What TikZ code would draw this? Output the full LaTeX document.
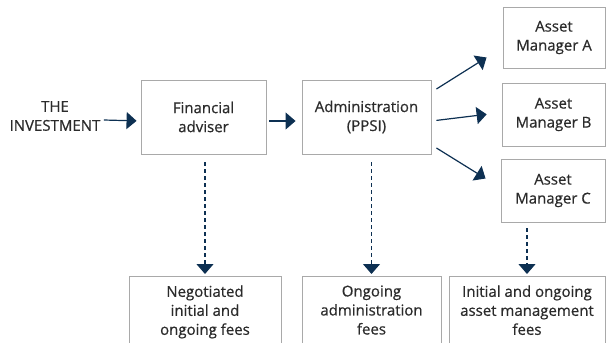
\documentclass[tikz,border=0pt]{standalone}
\usepackage{fontspec}
\setmainfont{Open Sans}
\newfontfamily\semib{Open Sans}[FakeBold=0.6]
\usetikzlibrary{arrows.meta}

\definecolor{navy}{HTML}{0D3052}
\definecolor{boxgrey}{HTML}{A9A9A9}
\definecolor{txt}{HTML}{2B2B2B}

\tikzset{
  box/.style={draw=boxgrey, line width=0.9pt, align=center, text=txt,
    font=\semib\fontsize{15}{19}\selectfont, inner sep=0pt},
  flow/.style={-{Triangle[length=10pt,width=17pt]}, draw=navy, line width=1.2pt},
  fee/.style={flow, dash pattern=on 4pt off 3pt}
}

\begin{document}
\begin{tikzpicture}[x=1pt, y=-1pt]
    \useasboundingbox (0,0) rectangle (606,343);
    \clip (0,0) rectangle (606,343);
    % Nodes
    \node[box, draw=none, inner sep=3pt] (inv) at (55,116) {THE\\INVESTMENT};
    \node[box, minimum width=125pt, minimum height=74pt] (fa) at (203.5,117) {Financial\\adviser};
    \node[box, minimum width=129pt, minimum height=74pt] (adm) at (366.5,117) {Administration\\(PPSI)};
    \node[box, minimum width=102pt, minimum height=61pt] (ama) at (554,37.5) {Asset\\Manager A};
    \node[box, minimum width=103pt, minimum height=63pt] (amb) at (553.5,114.5) {Asset\\Manager B};
    \node[box, minimum width=104pt, minimum height=63pt] (amc) at (553,190.5) {Asset\\Manager C};
    \node[box, anchor=north, minimum width=152pt, inner ysep=9pt] (neg) at (205,276) {Negotiated\\initial and\\ongoing fees};
    \node[box, anchor=north, minimum width=139pt, inner ysep=9pt] (oaf) at (371.5,276) {Ongoing\\administration\\fees};
    \node[box, anchor=north, minimum width=156pt, inner ysep=9pt] (iam) at (527,276) {Initial and ongoing\\asset management\\fees};
    % Flow of the money
    \draw[flow, shorten >=4pt] ([yshift=-4pt]inv.east) -- ([yshift=-4pt]fa.west);
    \draw[flow, shorten <=3pt, shorten >=6pt] ([yshift=-4pt]fa.east) -- ([yshift=-4pt]adm.west);
    \draw[flow, shorten <=5pt, shorten >=15pt] ([yshift=-4pt]adm.east) -- ([yshift=2pt]amb.west);
    \draw[flow] ([xshift=5pt,yshift=28pt]adm.east) -- ([xshift=-16pt,yshift=-20pt]ama.west);
    \draw[flow] ([xshift=5pt,yshift=-31pt]adm.east) -- ([xshift=-15pt,yshift=12pt]amc.west);
    % Fees
    \draw[fee, shorten <=8pt, shorten >=2pt] (fa.south -| neg.north) -- (neg.north);
    \draw[fee, shorten <=8pt, shorten >=2pt] (adm.south -| oaf.north) -- (oaf.north);
    \draw[fee, shorten <=6pt, shorten >=2pt] (amc.south -| iam.north) -- (iam.north);
\end{tikzpicture}
\end{document}
